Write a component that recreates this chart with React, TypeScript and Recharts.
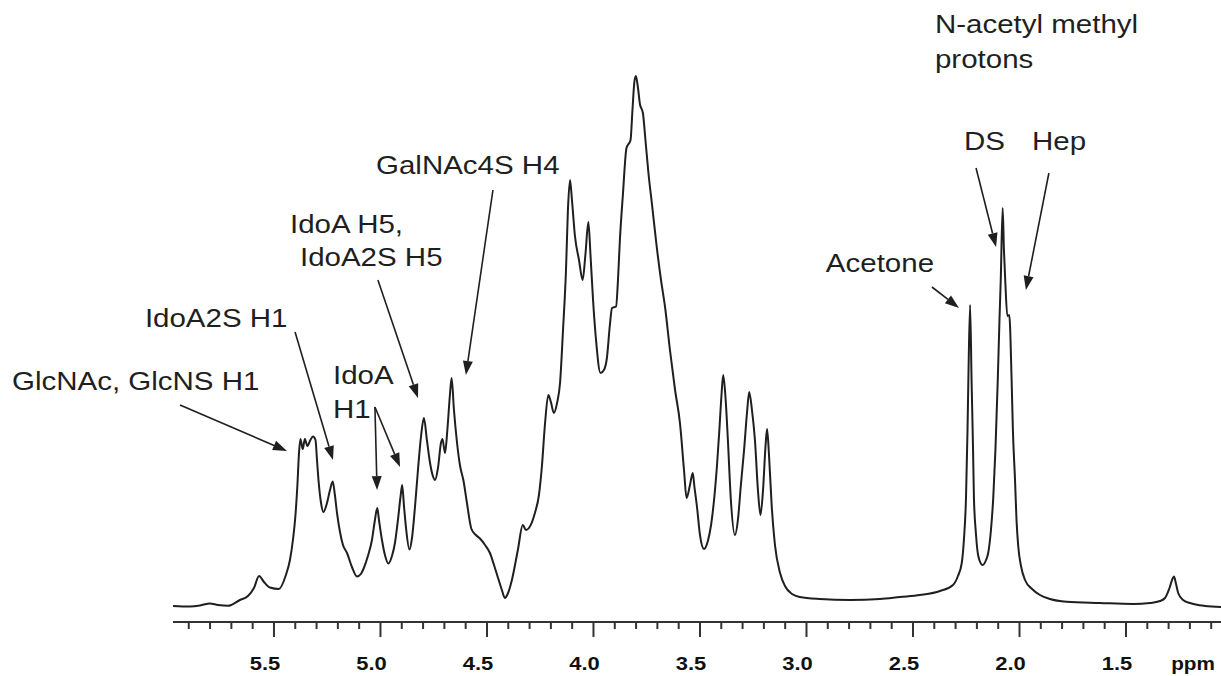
import { LineChart, Line, XAxis, YAxis, ReferenceLine, ReferenceDot } from "recharts";

// 1H NMR spectrum, chemical shift (ppm) vs. signal (arbitrary units)
const ppm = [
  5.974, 5.894, 5.847, 5.801, 5.763, 5.716, 5.66, 5.622, 5.594, 5.57, 5.547, 5.519, 5.477, 5.444,
  5.425, 5.411, 5.399, 5.39, 5.383, 5.376, 5.365, 5.355, 5.343, 5.329, 5.317, 5.305, 5.298, 5.291,
  5.279, 5.268, 5.251, 5.237, 5.224, 5.214, 5.204, 5.19, 5.176, 5.157, 5.134, 5.11, 5.092, 5.078,
  5.059, 5.04, 5.026, 5.015, 5.007, 4.993, 4.979, 4.963, 4.946, 4.932, 4.918, 4.906, 4.898, 4.89,
  4.88, 4.864, 4.852, 4.838, 4.824, 4.81, 4.796, 4.782, 4.768, 4.754, 4.744, 4.73, 4.716, 4.709,
  4.697, 4.686, 4.674, 4.666, 4.655, 4.641, 4.627, 4.61, 4.594, 4.573, 4.552, 4.533, 4.509, 4.486,
  4.467, 4.448, 4.43, 4.416, 4.401, 4.383, 4.355, 4.332, 4.317, 4.303, 4.275, 4.256, 4.242, 4.228,
  4.212, 4.2, 4.186, 4.171, 4.157, 4.143, 4.129, 4.12, 4.11, 4.101, 4.087, 4.068, 4.051, 4.038,
  4.024, 4.014, 4.002, 3.988, 3.967, 3.951, 3.937, 3.923, 3.913, 3.894, 3.885, 3.876, 3.862, 3.845,
  3.826, 3.817, 3.808, 3.801, 3.791, 3.782, 3.768, 3.756, 3.742, 3.725, 3.703, 3.683, 3.664, 3.641,
  3.617, 3.594, 3.575, 3.563, 3.547, 3.534, 3.526, 3.514, 3.5, 3.481, 3.463, 3.448, 3.434, 3.42,
  3.409, 3.399, 3.391, 3.38, 3.369, 3.355, 3.336, 3.322, 3.308, 3.293, 3.279, 3.269, 3.256, 3.242,
  3.228, 3.216, 3.204, 3.192, 3.185, 3.176, 3.163, 3.148, 3.124, 3.101, 3.068, 3.031, 2.937, 2.796,
  2.655, 2.561, 2.467, 2.373, 2.312, 2.289, 2.271, 2.261, 2.251, 2.244, 2.24, 2.232, 2.225, 2.218,
  2.214, 2.204, 2.193, 2.173, 2.157, 2.147, 2.134, 2.123, 2.113, 2.102, 2.094, 2.088, 2.079, 2.073,
  2.067, 2.057, 2.048, 2.037, 2.031, 2.021, 2.014, 2.006, 1.993, 1.974, 1.941, 1.904, 1.857, 1.779,
  1.622, 1.467, 1.387, 1.34, 1.317, 1.303, 1.294, 1.284, 1.275, 1.265, 1.255, 1.232, 1.2, 1.129, 1.054,
];

const intensity = [
  16, 15.5, 16.5, 18.5, 17, 16.2, 22, 26, 34, 46, 40, 34.5, 33, 47,
  62, 82, 107, 137, 167, 183, 173, 183, 176, 182, 185.5, 182, 162, 142,
  119, 110, 119, 132, 140.5, 127, 109, 90, 77, 69, 55, 45.5, 48, 54,
  66, 82, 102, 114, 102, 82, 67, 58.5, 66, 79, 102, 125, 137, 117,
  94, 72.5, 84, 115, 152, 185, 204, 182, 160, 146, 142, 154, 179, 183,
  169, 192, 227, 244, 212, 180, 157, 141, 119, 93, 87, 83.5, 77, 69,
  57, 44, 32, 24, 29, 42, 72, 97, 92, 94, 109, 127, 156, 197,
  227, 220, 209, 219, 239, 292, 352, 412, 442, 422, 386, 362, 342, 367,
  400, 367, 322, 282, 249, 252, 264, 297, 314, 315.5, 342, 382, 427, 474,
  482, 512, 540, 546, 534, 518, 509, 482, 449, 417, 375, 342, 315, 272,
  232, 199, 152, 124, 137, 149, 135, 115, 87, 73, 81, 97, 122, 157,
  192, 227, 247, 224, 182, 122, 87, 102, 137, 172, 210, 230, 212, 182,
  132, 107, 132, 177, 193, 167, 115, 77, 49, 36, 28, 25, 23, 22,
  23, 25, 27, 31, 37, 46, 59, 82, 125, 192, 242, 317, 242, 172,
  125, 87, 65.5, 57, 62, 69, 92, 125, 172, 242, 302, 342, 414, 372,
  342, 306, 307, 242, 192, 142, 102, 76, 56, 42, 33, 27, 23, 20.3,
  19, 18, 19, 21, 24, 30, 35, 42, 45.5, 38, 29, 22, 19, 16, 15,
];

const minorTicks = [
  5.9, 5.8, 5.7, 5.6, 5.5, 5.4, 5.3, 5.2, 5.1, 5.0, 4.9, 4.8, 4.7, 4.6, 4.5, 4.4, 4.3, 4.2, 4.1,
  4.0, 3.9, 3.8, 3.7, 3.6, 3.5, 3.4, 3.3, 3.2, 3.1, 3.0, 2.9, 2.8, 2.7, 2.6, 2.5, 2.4, 2.3, 2.2,
  2.1, 2.0, 1.9, 1.8, 1.7, 1.6, 1.5, 1.4, 1.3, 1.2, 1.1,
];
const majorTicks = [5.5, 5.0, 4.5, 4.0, 3.5, 3.0, 2.5, 2.0, 1.5];
const majorLabels = ["5.5", "5.0", "4.5", "4.0", "3.5", "3.0", "2.5", "2.0", "1.5"];

// peak annotations: text anchored at its left baseline
const noteText = [
  "GlcNAc, GlcNS H1", "IdoA2S H1", "IdoA", "H1", "IdoA H5,", "IdoA2S H5", "GalNAc4S H4",
  "Acetone", "DS", "Hep", "N-acetyl methyl", "protons",
];
const notePpm = [6.73, 6.106, 5.223, 5.223, 5.425, 5.378, 5.021, 2.909, 2.261, 1.941, 2.397, 2.397];
const noteInt = [232, 295, 238, 204, 389, 356, 448, 350, 472, 472, 589, 554];

const arrowFromPpm = [5.941, 5.401, 5.026, 5.026, 5.012, 4.472, 2.411, 2.204, 1.862];
const arrowFromInt = [217, 290, 215, 215, 342, 432, 335, 454, 449];
const arrowToPpm = [5.439, 5.223, 5.016, 4.908, 4.824, 4.599, 2.284, 2.11, 1.97];
const arrowToInt = [171, 162, 132, 155, 224, 247, 314, 375, 332];

const spectrum = ppm.map((p, i) => ({ ppm: p, intensity: intensity[i] }));

const INK = "#1f1f1f";

function AxisTick(props: any) {
  const { x, y, payload } = props;
  const idx = majorTicks.findIndex((m) => Math.abs(m - payload.value) < 1e-6);
  const major = idx >= 0;
  return (
    <g>
      <line x1={x} y1={y} x2={x} y2={y + (major ? 15 : 7)} stroke="#333" strokeWidth={2} />
      {major && (
        <text
          transform={`translate(${x - 9},${y + 48}) scale(1.22,1)`}
          textAnchor="middle"
          fontFamily="'Liberation Sans', Arial, sans-serif"
          fontWeight="bold"
          fontSize={18}
          fill="#111"
        >
          {majorLabels[idx]}
        </text>
      )}
    </g>
  );
}

function Arrow(props: any) {
  const { x1, y1, x2, y2 } = props;
  const dx = x2 - x1;
  const dy = y2 - y1;
  const len = Math.sqrt(dx * dx + dy * dy) || 1;
  const ux = dx / len;
  const uy = dy / len;
  const head = 14;
  const half = 5;
  const bx = x2 - ux * head;
  const by = y2 - uy * head;
  return (
    <g>
      <line x1={x1} y1={y1} x2={bx} y2={by} stroke={INK} strokeWidth={1.6} />
      <polygon
        points={`${x2},${y2} ${bx - uy * half},${by + ux * half} ${bx + uy * half},${by - ux * half}`}
        fill={INK}
      />
    </g>
  );
}

function noteShape(text: string) {
  return (props: any) => (
    <text
      transform={`translate(${props.cx},${props.cy}) scale(1.18,1)`}
      fontFamily="'Liberation Sans', Arial, sans-serif"
      fontSize={25}
      fill={INK}
    >
      {text}
    </text>
  );
}

export default function App() {
  return (
    <div style={{ position: "absolute", left: 0, top: 0, background: "#fff" }}>
      <LineChart
        width={1221}
        height={676}
        data={spectrum}
        margin={{ top: 0, right: 0, bottom: 0, left: 173 }}
      >
        <XAxis
          dataKey="ppm"
          type="number"
          domain={[1.054, 5.974]}
          reversed
          allowDataOverflow
          ticks={minorTicks}
          interval={0}
          height={54}
          tickSize={0}
          tickMargin={0}
          tick={<AxisTick />}
          axisLine={{ stroke: "#333", strokeWidth: 2 }}
          label={(p: any) => (
            <text
              transform={`translate(${p.viewBox.x + p.viewBox.width - 28},${p.viewBox.y + 48}) scale(1.15,1)`}
              textAnchor="middle"
              fontFamily="'Liberation Sans', Arial, sans-serif"
              fontWeight="bold"
              fontSize={18}
              fill="#111"
            >
              ppm
            </text>
          )}
        />
        <YAxis hide type="number" domain={[0, 622]} allowDataOverflow />
        <Line
          type="monotoneX"
          dataKey="intensity"
          stroke={INK}
          strokeWidth={2}
          dot={false}
          activeDot={false}
          isAnimationActive={false}
        />
        {arrowFromPpm.map((p, i) => (
          <ReferenceLine
            key={`a${i}`}
            ifOverflow="visible"
            segment={[
              { x: p, y: arrowFromInt[i] },
              { x: arrowToPpm[i], y: arrowToInt[i] },
            ]}
            shape={Arrow}
          />
        ))}
        {noteText.map((t, i) => (
          <ReferenceDot
            key={`n${i}`}
            x={notePpm[i]}
            y={noteInt[i]}
            r={0}
            ifOverflow="visible"
            shape={noteShape(t)}
          />
        ))}
      </LineChart>
    </div>
  );
}
